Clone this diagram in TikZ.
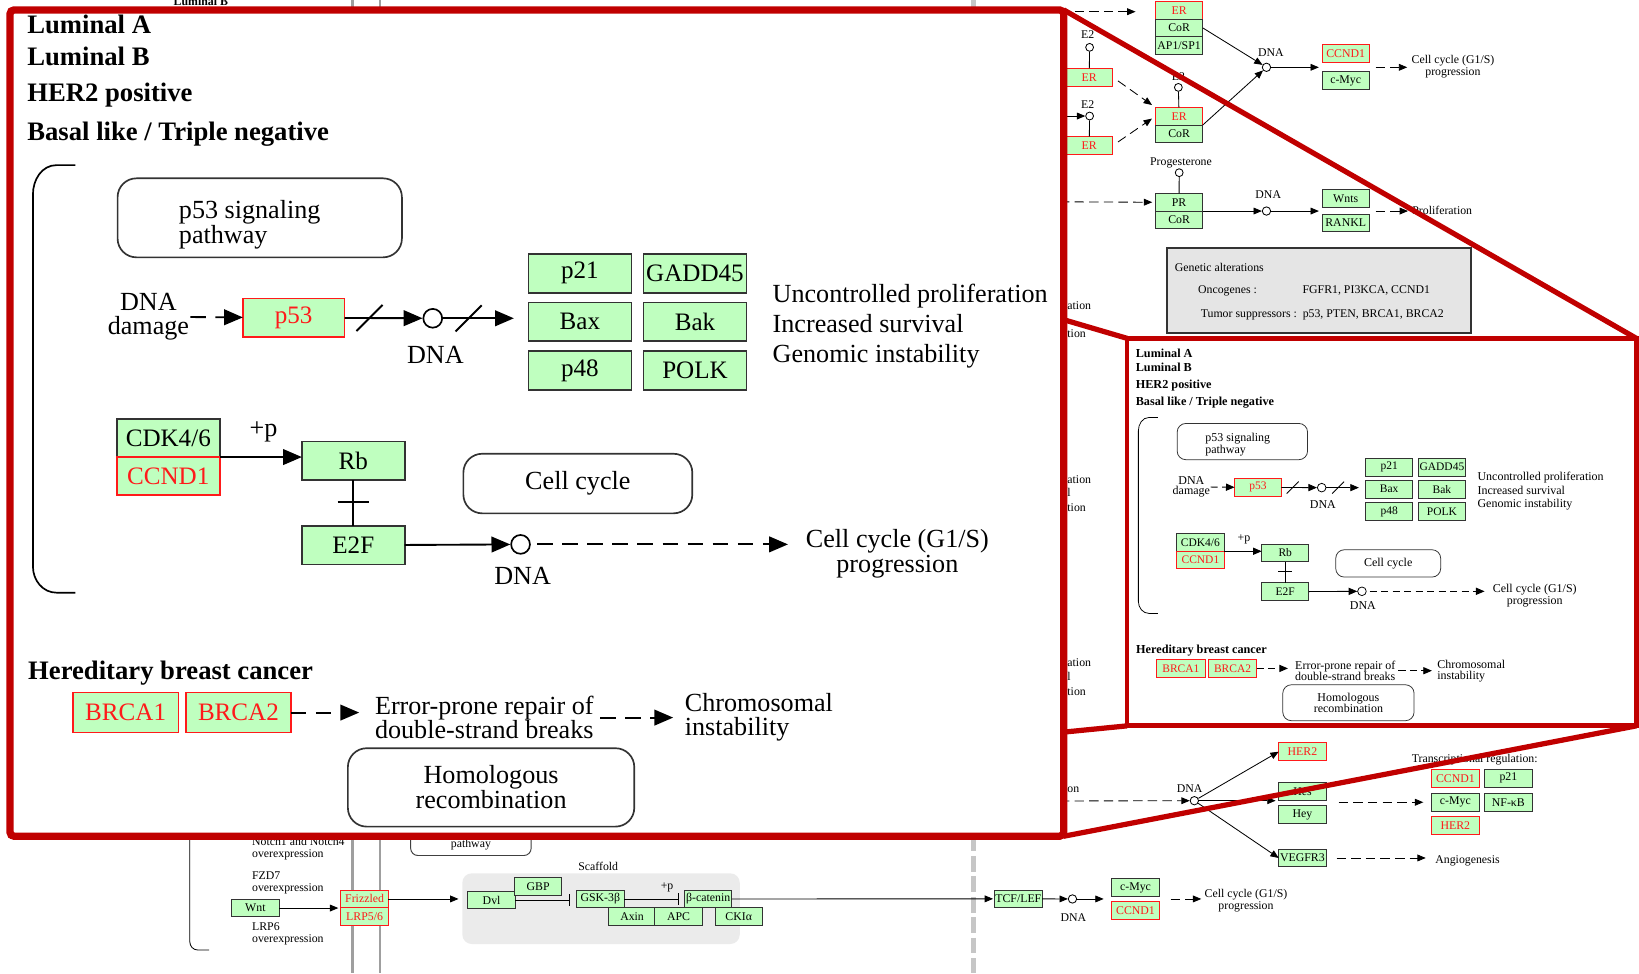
\documentclass[tikz,border=0pt]{standalone}
\usepackage{fontspec}
\setmainfont{Liberation Serif}
\usepackage{xcolor}
\definecolor{keggGreen}{HTML}{BFFFBF}
\definecolor{keggRed}{HTML}{FF1A1A}
\definecolor{zoomRed}{HTML}{C00000}
\usepackage{tikz}
\usetikzlibrary{positioning,arrows.meta}

\newcommand{\bgfont}{\fontsize{11.3}{11}\selectfont}
\newcommand{\panelfont}{\fontsize{25}{24}\selectfont}
\newcommand{\genefont}{\fontsize{24}{24}\selectfont}
\newcommand{\headfont}{\fontsize{25.5}{28}\selectfont\bfseries}

\newcommand{\subtypepanel}{%
  \node[phead, anchor=base west] (lumA) at (26,32) {Luminal A};
  \node[phead, anchor=base west] (lumB) at (26,63) {Luminal B};
  \node[phead, anchor=base west] (her2pos) at (26,97) {HER2 positive};
  \node[phead, anchor=base west] (basal) at (26,134) {Basal like / Triple negative};
  \draw[pline, line width=1.6pt] (72,158) -- (54,158) to[out=180,in=90] (31.5,186)
    -- (31.5,542) to[out=-90,in=180] (54,567) -- (72,567);
  \node[pmap, minimum width=272pt, minimum height=75.6pt] (p53map) at (248.5,208.4) {};
  \node[ptxt, align=left, anchor=north west, font={\fontsize{25}{22.5}\selectfont}] (p53mapTxt)
    at (171,191.5) {p53 signaling\\pathway};
  \node[ptxt, align=center, font={\fontsize{25}{22.5}\selectfont}] (dnadmg) at (142,303) {DNA\\damage};
  \node[pgene, mut, minimum width=97.3pt] (p53) at (281,304) {p53};
  \node[pdot] (dnaA) at (414,304.5) {};
  \node[ptxt, anchor=base] (dnaAlbl) at (416.5,347.5) {DNA};
  \node[pgene] (p21) at (554.8,261.5) {p21};
  \node[pgene] (gadd45) at (664.9,261.5) {GADD45};
  \node[pgene] (bax) at (554.8,307.9) {Bax};
  \node[pgene] (bak) at (664.9,307.9) {Bak};
  \node[pgene] (p48) at (554.8,354.5) {p48};
  \node[pgene] (polk) at (664.9,354.5) {POLK};
  \node[ptxt, align=left, anchor=west, font={\fontsize{25}{28.5}\selectfont}] (outcome) at (739,312)
    {Uncontrolled proliferation\\Increased survival\\Genomic instability};
  \draw[pdlink, shorten <=1pt] (dnadmg) -- (p53);
  \draw[plink] (p53) -- (dnaA);
  \draw[plink, shorten >=14pt] (dnaA) -- (dnaA -| bax.west);
  \path (p53.east) -- coordinate[pos=0.32] (slashA) (dnaA.west);
  \path (dnaA.east) -- coordinate[pos=0.3] (slashB) (dnaA -| bax.west);
  \draw[pline] (slashA) +(-12.5,12.5) -- +(12.5,-12.5);
  \draw[pline] (slashB) +(-12.5,12.5) -- +(12.5,-12.5);
  \node[pgene, minimum height=36.5pt] (cdk) at (161,419) {CDK4/6};
  \node[pgene, mut, minimum height=36.5pt, below=0pt of cdk] (ccndA) {CCND1};
  \node[pgene] (rb) at (338,440.8) {Rb};
  \node[pgene] (e2f) at (338,521.6) {E2F};
  \node[ptxt] (plusp) at (252,413) {+p};
  \node[pdot] (dnaB) at (498,520.8) {};
  \node[ptxt, anchor=base] (dnaBlbl) at (500,559.6) {DNA};
  \node[pmap, minimum width=219pt, minimum height=57pt] (ccmap) at (552.8,462.6) {Cell cycle};
  \node[ptxt, align=center, font={\fontsize{25}{23.5}\selectfont}] (g1s) at (858.5,530)
    {Cell cycle (G1/S)\\progression};
  \draw[plink] (cdk.south east) -- (cdk.south east -| rb.west);
  \draw[pline] (rb) -- (e2f);
  \path (rb.south) -- coordinate[pos=0.47] (rbtick) (e2f.north);
  \draw[pline] (rbtick) +(-15,0) -- +(15,0);
  \draw[plink] (e2f) -- (dnaB);
  \draw[pdlink, shorten <=6pt, shorten >=17pt] (dnaB) -- (dnaB -| g1s.west);
  \node[phead, anchor=base west] (hered) at (26.8,650.5) {Hereditary breast cancer};
  \node[pgene, mut, minimum width=101pt, minimum height=38.3pt] (brca1) at (120.2,681.7) {BRCA1};
  \node[pgene, mut, minimum width=100pt, minimum height=38.3pt] (brca2) at (228.1,681.7) {BRCA2};
  \node[ptxt, align=left, anchor=west, font={\fontsize{25}{23}\selectfont}] (repair) at (358.6,686.5)
    {Error-prone repair of\\double-strand breaks};
  \node[ptxt, align=left, anchor=west, font={\fontsize{25}{23}\selectfont}] (chromo) at (655,686.5)
    {Chromosomal\\instability};
  \node[pmap, minimum width=274pt, minimum height=75pt, font={\fontsize{25}{22.5}\selectfont}] (homrec)
    at (469.8,753.3) {Homologous\\recombination};
  \draw[pdlink, shorten >=15pt] (brca2.east) -- (brca2.east -| repair.west);
  \draw[pdlink, shorten <=6pt, shorten >=11pt] (repair.east) -- (repair.east -| chromo.west);
}

\begin{document}
\begin{tikzpicture}[x=1pt, y=-1pt,
    txt/.style={font=\bgfont, inner sep=0pt},
    gene/.style={draw=black!80, fill=keggGreen, line width=0.9pt, minimum width=45.3pt,
                 minimum height=16.8pt, inner sep=0pt, outer sep=0pt, font=\bgfont},
    mut/.style={draw=keggRed, text=keggRed},
    ligand/.style={circle, draw, fill=white, minimum size=7.5pt, inner sep=0pt, line width=0.8pt},
    dnadot/.style={circle, draw, fill=white, minimum size=8pt, inner sep=0pt, line width=0.8pt},
    bline/.style={line width=0.8pt},
    link/.style={-{Triangle[length=8pt, width=6.5pt]}, line width=0.8pt},
    dlink/.style={link, dash pattern=on 9pt off 5pt},
    blunt/.style={-{Bar[width=11pt, line width=1.2pt]}, line width=0.8pt},
    mapbox/.style={draw=black!75, fill=white, line width=0.9pt, rounded corners=7pt, inner sep=0pt},
    altbox/.style={draw=black!80, fill=gray!20, line width=2pt, inner sep=0pt},
    scaffold/.style={fill=gray!16, rounded corners=9pt, inner sep=0pt},
    membrane/.style={draw=gray!75, line width=2.5pt},
    nucleus/.style={draw=gray!45, line width=4.5pt, dash pattern=on 15pt off 4.5pt},
    phead/.style={font=\headfont, inner sep=0pt},
    ptxt/.style={font=\panelfont, inner sep=0pt},
    pgene/.style={draw=black!80, fill=keggGreen, line width=1.6pt, minimum width=98.4pt,
                  minimum height=37pt, inner sep=0pt, outer sep=0pt, font=\genefont},
    pmap/.style={draw=black!80, line width=1.6pt, rounded corners=18pt, inner sep=0pt,
                 align=center, font=\panelfont},
    pdot/.style={circle, draw, fill=white, minimum size=18pt, inner sep=0pt, line width=1.6pt},
    pline/.style={line width=1.8pt},
    plink/.style={-{Triangle[length=18pt, width=15pt]}, line width=1.8pt},
    pdlink/.style={plink, dash pattern=on 15pt off 9pt},
    zoomframe/.style={draw=zoomRed, line width=7pt, rounded corners=4pt},
    zoomline/.style={draw=zoomRed, line width=5pt},
    miniframe/.style={draw=zoomRed, line width=4.5pt}]
  \useasboundingbox (0,0) rectangle (1568,931);
  \clip (0,0) rectangle (1568,931);

  \draw[membrane] (337,0) -- (337,931);
  \draw[membrane] (363.5,0) -- (363.5,931);
  \draw[nucleus] (931,0) -- (931,931);
  \node[txt, font=\bgfont\bfseries, anchor=base west] (lumBtop) at (166,4.8) {Luminal B};

  \node[gene, mut] (erA) at (1128,9.9) {ER};
  \node[gene, below=0pt of erA] (corA) {CoR};
  \node[gene, below=0pt of corA] (ap1) {AP1/SP1};
  \coordinate (erAin) at (1000,11.2);
  \draw[dlink, shorten >=19pt] (erAin) -- (erAin -| erA.west);
  \node[ligand] (e2a) at (1042.4,45.3) {};
  \node[txt] (e2aLbl) at (1040.6,33.5) {E2};
  \node[gene, mut] (erB) at (1042,73.9) {ER};
  \draw[bline] (e2a) -- (erB);
  \node[ligand] (e2b) at (1042.4,111) {};
  \node[txt] (e2bLbl) at (1040.6,100.5) {E2};
  \node[gene, mut] (erC) at (1042,139.2) {ER};
  \draw[bline] (e2b) -- (erC);
  \coordinate (e2bin) at (1000,111);
  \draw[link] (e2bin) -- (e2b);
  \node[gene, mut] (erD) at (1128,111.2) {ER};
  \node[gene, below=0pt of erD] (corD) {CoR};
  \node[ligand] (e2c) at (1127.3,83.6) {};
  \node[txt] (e2cLbl) at (1127.3,73.3) {E2};
  \draw[bline] (e2c) -- (erD);
  \draw[dlink, shorten <=6pt, shorten >=4pt] (erB.east) -- (erD.north west);
  \draw[dlink, shorten <=6pt, shorten >=4pt] (erC.east) -- (erD.west);
  \node[dnadot] (dnaC) at (1211.6,64.4) {};
  \node[txt] (dnaClbl) at (1215.8,50.4) {DNA};
  \draw[link] (corA.east) -- (dnaC);
  \draw[link] (erD.south east) -- (dnaC);
  \node[gene, mut] (ccndB) at (1287.4,51.3) {CCND1};
  \node[gene] (cmycB) at (1287.4,77) {c-Myc};
  \draw[link, shorten >=3pt] (dnaC) -- (dnaC -| ccndB.west);
  \node[txt, align=center] (g1sB) at (1390,63.7) {Cell cycle (G1/S)\\progression};
  \draw[dlink, shorten <=6pt, shorten >=4pt] (dnaC -| ccndB.east) -- (dnaC -| g1sB.west);
  \node[ligand] (prog) at (1128.1,165.2) {};
  \node[txt] (progLbl) at (1129.8,156) {Progesterone};
  \node[gene] (prA) at (1128,193.5) {PR};
  \node[gene, below=0pt of prA] (corE) {CoR};
  \draw[bline] (prog) -- (prA);
  \coordinate (prin) at (1000,193);
  \draw[dlink, shorten >=3pt] (prin) -- (prA.west);
  \node[dnadot] (dnaD) at (1211.6,201.9) {};
  \node[txt] (dnaDlbl) at (1213.3,186.6) {DNA};
  \draw[link] (prA.south east) -- (dnaD);
  \node[gene] (wnts) at (1287.4,189.8) {Wnts};
  \node[gene] (rankl) at (1287.4,213.2) {RANKL};
  \draw[link, shorten >=3pt] (dnaD) -- (dnaD -| wnts.west);
  \node[txt, anchor=west] (prolif) at (1351,201.5) {Proliferation};
  \draw[dlink, shorten <=6pt, shorten >=4pt] (dnaD -| wnts.east) -- (dnaD -| prolif.west);
  \node[altbox, minimum width=291.6pt, minimum height=81.4pt] (alter) at (1261.8,278.3) {};
  \node[txt, anchor=west] (altTitle) at (1123.8,256) {Genetic alterations};
  \node[txt, anchor=west] (onco) at (1146,278) {Oncogenes :};
  \node[txt, anchor=west] (oncoList) at (1246,278) {FGFR1, PI3KCA, CCND1};
  \node[txt, anchor=west] (tsg) at (1148.6,301.4) {Tumor suppressors :\ \ p53, PTEN, BRCA1, BRCA2};

  \node[txt, anchor=west] (fragA) at (1021,292.8) {ation};
  \node[txt, anchor=west] (fragB) at (1021,319) {tion};
  \node[txt, anchor=west] (fragC) at (1021,459) {ation};
  \node[txt, anchor=west] (fragD) at (1021,471.5) {l};
  \node[txt, anchor=west] (fragE) at (1021,486) {tion};
  \node[txt, anchor=west] (fragF) at (1021,634) {ation};
  \node[txt, anchor=west] (fragG) at (1021,647.5) {l};
  \node[txt, anchor=west] (fragH) at (1021,662) {tion};
  \node[txt, anchor=west] (fragI) at (1021,756) {on};

  \coordinate (notchin) at (1000,766.3);
  \node[dnadot] (dnaE) at (1142.6,766) {};
  \node[txt] (dnaElbl) at (1138,754.2) {DNA};
  \draw[dlink] (notchin) -- (dnaE);
  \node[gene, mut] (her2A) at (1246,719.1) {HER2};
  \node[gene] (hes) at (1246,757) {Hes};
  \node[gene] (hey) at (1246,779.4) {Hey};
  \node[gene] (vegfr3) at (1246,820.8) {VEGFR3};
  \draw[link] (dnaE) -- (her2A.west);
  \draw[link, shorten >=3pt] (dnaE) -- (dnaE -| hes.west);
  \draw[link] (dnaE) -- (vegfr3.west);
  \node[txt, anchor=west] (treg) at (1350.4,726.4) {Transcriptional regulation:};
  \node[gene, mut] (ccndC) at (1392.3,744.6) {CCND1};
  \node[gene] (p21B) at (1443,744.6) {p21};
  \node[gene] (cmycC) at (1392.3,767.5) {c-Myc};
  \node[gene] (nfkb) at (1443,767.5) {NF-κB};
  \node[gene, mut] (her2B) at (1392.3,789.6) {HER2};
  \draw[dlink, shorten <=12pt, shorten >=8pt] (cmycC.west -| hes.east) -- (cmycC.west);
  \node[txt, anchor=west] (angio) at (1373,823.4) {Angiogenesis};
  \draw[dlink, shorten <=10pt, shorten >=9pt] (vegfr3.east) -- (vegfr3.east -| angio.west);

  \draw[bline] (181.6,790) -- (181.6,901) to[out=-90,in=180] (189,908.8) -- (200,908.8);
  \node[txt, align=left, anchor=west] (notchTxt) at (241,812) {Notch1 and Notch4\\overexpression};
  \node[txt, align=left, anchor=west] (fzdTxt) at (241,844.5) {FZD7\\overexpression};
  \node[txt, align=left, anchor=west] (lrpTxt) at (241,893.6) {LRP6\\overexpression};
  \node[gene] (wnt) at (244.3,868.7) {Wnt};
  \node[gene, mut] (fzd) at (348.8,860) {Frizzled};
  \node[gene, mut, below=0pt of fzd] (lrp) {LRP5/6};
  \draw[link, shorten >=2.5pt] (wnt.east) -- (wnt.east -| fzd.west);
  \node[mapbox, minimum width=115.3pt, text height=30pt, text depth=3pt, inner ysep=5pt,
        anchor=south, font=\bgfont] (pathwayMap) at (450.5,818.9) {pathway};
  \node[scaffold, minimum width=265.4pt, minimum height=67.6pt] (scaffoldBg) at (575,869.3) {};
  \node[txt] (scaffoldLbl) at (572.3,829) {Scaffold};
  \node[gene] (dvl) at (470.3,861) {Dvl};
  \node[gene] (gbp) at (514.8,847.9) {GBP};
  \node[gene] (gsk) at (574.3,860) {GSK-3β};
  \node[gene] (axin) at (604.7,876.5) {Axin};
  \node[gene] (apc) at (649.2,876.5) {APC};
  \node[gene] (bcat) at (677.5,860) {β-catenin};
  \node[gene] (ckia) at (706.7,876.5) {CKIα};
  \draw[link, shorten >=9pt] (fzd.east) -- (fzd.east -| dvl.west);
  \draw[blunt, shorten >=6pt] (dvl.east) -- (dvl.east -| gsk.west);
  \draw[blunt, shorten >=5.5pt] (gsk.east) -- (bcat.west);
  \node[txt] (plusB) at (638.2,848.9) {+p};
  \node[gene] (tcf) at (974.2,859.9) {TCF/LEF};
  \draw[link, shorten >=1.5pt] (bcat.east) -- (tcf.west);
  \node[dnadot] (dnaF) at (1026,860) {};
  \node[txt] (dnaFlbl) at (1026.9,877.6) {DNA};
  \draw[link] (tcf) -- (dnaF);
  \node[gene] (cmycD) at (1086.3,849) {c-Myc};
  \node[gene, mut] (ccndD) at (1086.3,871) {CCND1};
  \draw[link, shorten >=7.8pt] (dnaF) -- (dnaF -| cmycD.west);
  \node[txt, align=center] (g1sC) at (1192,861.8) {Cell cycle (G1/S)\\progression};
  \draw[dlink, shorten <=11pt, shorten >=3pt] (dnaF -| cmycD.east) -- (dnaF -| g1sC.west);

  \coordinate (bigNW) at (9.5,9.5);
  \coordinate (bigNE) at (1017.7,9.5);
  \coordinate (bigSW) at (9.5,800);
  \coordinate (bigSE) at (1017.7,800);
  \coordinate (miniNW) at (1078.3,323.7);
  \coordinate (miniNE) at (1565.5,323.7);
  \coordinate (miniSW) at (1078.3,694.4);
  \coordinate (miniSE) at (1565.5,694.4);
  \draw[zoomline] (bigNW) -- (miniNW);
  \draw[zoomline] (bigNE) -- (miniNE);
  \draw[zoomline] (bigSW) -- (miniSW);
  \draw[zoomline] (bigSE) -- (miniSE);
  \draw[miniframe] (miniNW) rectangle (miniSE);
  \begin{scope}[name prefix=mini-, transform canvas={shift={(1074.6,326.9)}, scale=0.4585}]
    \subtypepanel
  \end{scope}

  \draw[zoomframe, fill=white] (bigNW) rectangle (bigSE);
  \begin{scope}[name prefix=big-]
    \subtypepanel
  \end{scope}
\end{tikzpicture}
\end{document}
